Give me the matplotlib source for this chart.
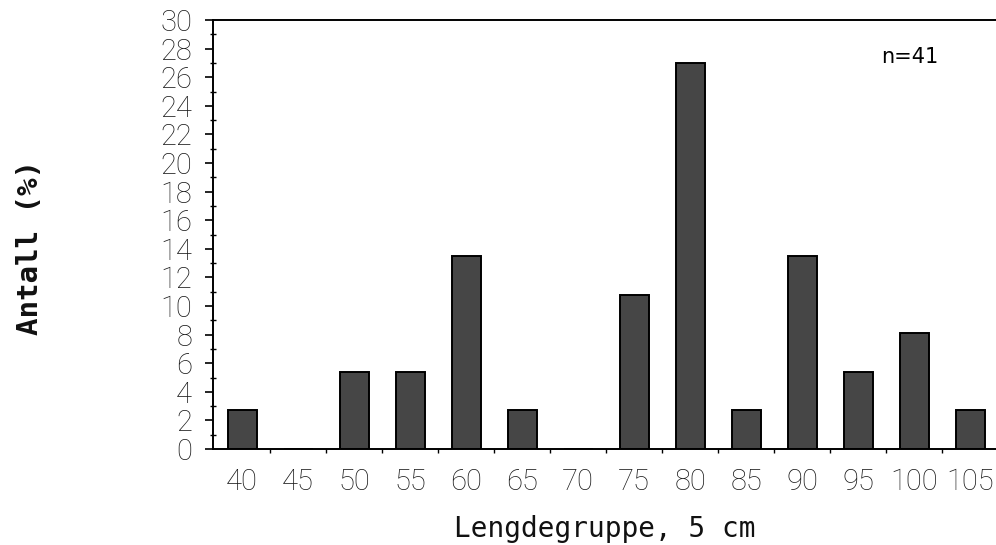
import matplotlib
matplotlib.use("Agg")
import matplotlib.pyplot as plt
import numpy as np
from matplotlib.ticker import MultipleLocator, FixedLocator

# Length groups (5 cm classes) and share of fish in each group (%)
length_groups = ["40", "45", "50", "55", "60", "65", "70", "75", "80", "85", "90", "95", "100", "105"]
percent = [2.7, 0.0, 5.4, 5.4, 13.5, 2.7, 0.0, 10.8, 27.0, 2.7, 13.5, 5.4, 8.1, 2.7]
sample_note = "n=41"

fig = plt.figure(figsize=(9.96, 5.45), dpi=100)
ax = fig.add_axes([0.2139, 0.1761, 0.7861, 0.7872])

x = np.arange(len(length_groups))
ax.bar(x, percent, width=0.52, color="#464646", edgecolor="black", linewidth=1.4)

ax.set_xlim(-0.52, 13.46)
ax.set_ylim(0, 30)

tick_font = dict(family=["Roboto", "DejaVu Sans"], weight="light", size=21)

# y axis: labelled ticks every 2 %, small ticks every 1 %
ax.yaxis.set_major_locator(MultipleLocator(2))
ax.yaxis.set_minor_locator(MultipleLocator(1))
ax.tick_params(axis="y", which="major", direction="out", length=6, width=1.2, pad=9)
ax.tick_params(axis="y", which="minor", direction="inout", length=4, width=1.0)

# x axis: labels under bars, small ticks on class boundaries
ax.xaxis.set_major_locator(FixedLocator(x))
ax.set_xticklabels(length_groups)
ax.xaxis.set_minor_locator(FixedLocator(x[:-1] + 0.5))
ax.tick_params(axis="x", which="major", length=0, pad=14)
ax.tick_params(axis="x", which="minor", direction="out", length=3, width=1.0)

for lab in ax.get_xticklabels() + ax.get_yticklabels():
    lab.set_fontfamily(tick_font["family"])
    lab.set_fontweight(tick_font["weight"])
    lab.set_fontsize(tick_font["size"])
    lab.set_color("#1a1a1a")

ax.spines["right"].set_visible(False)
for side in ("left", "top", "bottom"):
    ax.spines[side].set_linewidth(1.4)

ax.set_xlabel("Lengdegruppe, 5 cm", family="DejaVu Sans Mono", fontsize=20,
              va="baseline", color="#111111")
ax.xaxis.set_label_coords(0.5, -0.205)

ax.set_ylabel("Antall (%)", family="DejaVu Sans Mono", fontweight="bold",
              fontsize=21, va="center", color="#111111")
ax.yaxis.set_label_coords(-0.234, 0.469)

ax.text(0.89, 0.90, sample_note, transform=ax.transAxes, ha="center",
        va="baseline", fontsize=15, family="DejaVu Sans")

fig.savefig("out.png", dpi=100)
